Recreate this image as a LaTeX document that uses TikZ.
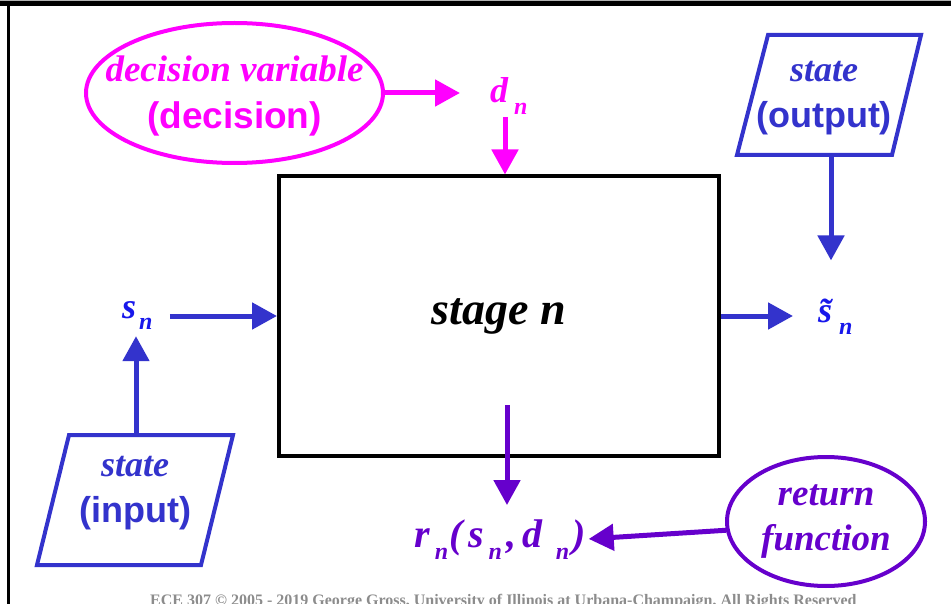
\documentclass[tikz,border=0pt]{standalone}
\usepackage{fontspec}
\setmainfont{Liberation Serif}
\setsansfont{Liberation Sans}
\usetikzlibrary{shapes.geometric,arrows.meta}
\definecolor{mag}{RGB}{255,0,255}
\definecolor{stblue}{RGB}{51,51,204}
\definecolor{vblue}{RGB}{24,24,235}
\definecolor{purp}{RGB}{102,0,204}
\definecolor{footgray}{RGB}{140,140,140}
\newcommand{\lowsub}[1]{\raisebox{-12pt}{\fontsize{24}{24}\selectfont #1}}
\begin{document}
\begin{tikzpicture}[x=1pt,y=-1pt,
  arr/.style={line width=5pt,-{Triangle[length=25pt,width=26pt]}},
  pgline/.style={draw=stblue,line width=4pt,line join=miter},
  pgtext/.style={align=center,inner sep=0pt,text=stblue,font=\fontsize{36}{46}\selectfont\bfseries},
  oval/.style={ellipse,line width=4pt,inner sep=0pt},
  lbl/.style={inner sep=0pt,font=\fontsize{36}{40}\selectfont\bfseries\itshape}]
\useasboundingbox (0,0) rectangle (951,604);
% frame
\fill[gray!60] (0,0) rectangle (951,1.5);
\fill[black] (0,1.5) rectangle (951,6.5);
\fill[black] (7,1.5) rectangle (10,604);
% footer
\node[anchor=base west,inner sep=0pt,text=footgray,font=\fontsize{16}{16}\selectfont\bfseries] (foot) at (150,605)
  {ECE 307 © 2005 - 2019 George Gross, University of Illinois at Urbana-Champaign, All Rights Reserved};
% main box
\node[draw,line width=4pt,minimum width=440pt,minimum height=279pt,inner sep=0pt,
  font=\fontsize{46}{50}\selectfont\bfseries\itshape] (stage) at (499,316) {stage n};
% decision ellipse
\node[oval,draw=mag,minimum width=297pt,minimum height=140pt] (dv) at (234.5,93) {};
\node[align=center,inner sep=0pt,text=mag,font=\fontsize{37}{47}\selectfont\bfseries] (dvtext) at ([yshift=-3pt]dv.center)
  {{\itshape decision variable}\\{\sffamily (decision)}};
% return ellipse
\node[oval,draw=purp,minimum width=198pt,minimum height=129pt] (ret) at (826,521.5) {};
\node[align=center,inner sep=0pt,text=purp,font=\fontsize{37}{45}\selectfont\bfseries\itshape] (rettext) at (ret.center)
  {return\\function};
% parallelograms (state output / state input)
\coordinate (o1) at (768,35); \coordinate (o2) at (921,35);
\coordinate (o3) at (892,155); \coordinate (o4) at (737,155);
\draw[pgline] (o1) -- (o2) -- (o3) -- (o4) -- cycle;
\node[pgtext] (outtext) at (824,98) {{\itshape state}\\{\sffamily (output)}};
\coordinate (outbot) at (831,155);
\coordinate (i1) at (69,435); \coordinate (i2) at (233,435);
\coordinate (i3) at (201,565); \coordinate (i4) at (37,565);
\draw[pgline] (i1) -- (i2) -- (i3) -- (i4) -- cycle;
\node[pgtext] (intext) at (135,493) {{\itshape state}\\{\sffamily (input)}};
\coordinate (intop) at (136,435);
% labels
\node[lbl,text=mag,anchor=base west] (dn) at (490,103) {d\kern6pt\lowsub{n}};
\node[lbl,text=vblue,anchor=base west] (sn) at (122,318) {s\kern3pt\lowsub{n}};
\node[lbl,text=vblue,anchor=base west] (stn) at (818,323) {\~{s}\kern7pt\lowsub{n}};
\node[lbl,text=purp,anchor=base west,font=\fontsize{40}{44}\selectfont\bfseries\itshape] (rn) at (414,547)
  {r\kern5pt\lowsub{n}\kern1.5pt(\kern6pt s\kern4pt\lowsub{n}\kern5pt,\kern6pt d\kern13pt\lowsub{n}\kern3pt)};
\coordinate (dnout) at (505,117);
\coordinate (rstart) at (507,405);
% connectors
\draw[arr,mag,shorten >=30pt] (dv.east) -- (dv.east -| dn.west);
\draw[arr,mag] (dnout) -- (dnout |- stage.north);
\draw[arr,stblue,shorten >=6pt] (intop) -- (intop |- sn.south);
\draw[arr,stblue,shorten <=17pt] (sn.east |- stage.west) -- (stage.west);
\draw[arr,stblue,shorten >=38pt] (outbot) -- (outbot |- stn.north);
\draw[arr,stblue,shorten >=25pt] (stage.east) -- (stage.east -| stn.west);
\draw[arr,purp,shorten >=14pt] (rstart) -- (rstart |- rn.north);
\draw[arr,purp,shorten >=3pt] (ret.185) -- (rn.east);
\end{tikzpicture}
\end{document}
